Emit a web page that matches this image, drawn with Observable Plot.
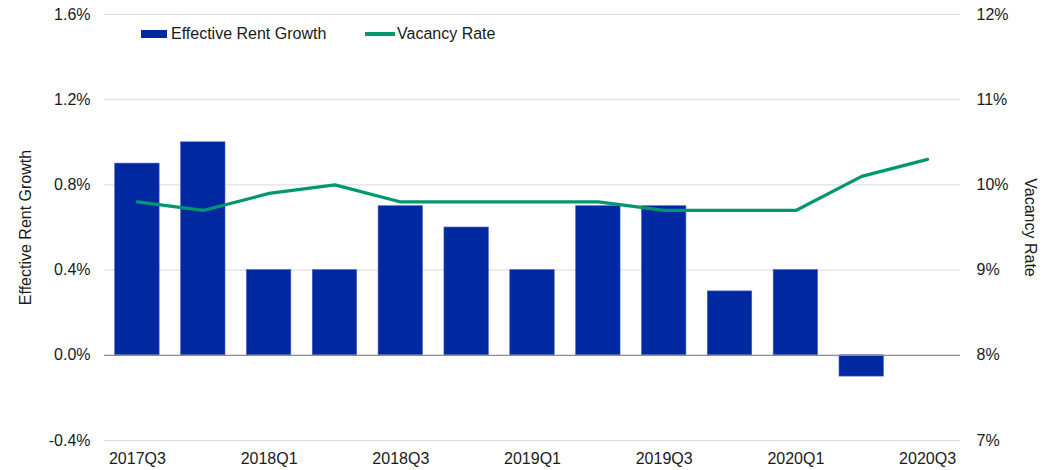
<!DOCTYPE html>
<html><head><meta charset="utf-8">
<script src="https://cdn.jsdelivr.net/npm/d3@7"></script>
<script src="https://cdn.jsdelivr.net/npm/@observablehq/plot@0.6"></script>
<style>
body{margin:0;background:#fff;font-family:"Liberation Sans",Arial,sans-serif;}
#wrap{position:relative;width:1042px;height:470px;}
#legend{position:absolute;left:141px;top:24px;height:20px;font-size:16px;color:#1a1a1a;}
#legend .it{position:absolute;top:0;display:flex;align-items:center;height:20px;white-space:nowrap;}
#legend .sw{width:26px;height:8px;background:#0028A0;margin-right:4px;}
#legend .ln{width:30px;height:3.5px;background:#00966f;margin-right:2px;}
</style></head>
<body><div id="wrap"><div id="legend"><div class="it" style="left:0"><div class="sw"></div>Effective Rent Growth</div><div class="it" style="left:224px"><div class="ln"></div>Vacancy Rate</div></div></div>
<script>
const quarters = ["2017Q3","2017Q4","2018Q1","2018Q2","2018Q3","2018Q4","2019Q1","2019Q2","2019Q3","2019Q4","2020Q1","2020Q2","2020Q3"];
const rentGrowth = [0.9,1.0,0.4,0.4,0.7,0.6,0.4,0.7,0.7,0.3,0.4,-0.1,null];
const vacancyRate = [9.8,9.7,9.9,10.0,9.8,9.8,9.8,9.8,9.7,9.7,9.7,10.1,10.3];
const xTickLabels = ["2017Q3","2018Q1","2018Q3","2019Q1","2019Q3","2020Q1","2020Q3"];
const leftTicks = [-0.4,0,0.4,0.8,1.2,1.6];
const rightTicks = [7,8,9,10,11,12];

const toLeft = v => (v - 8) * 0.4;
const bars = quarters.map((q,i)=>({q, v: rentGrowth[i]})).filter(d=>d.v!=null);
const line = quarters.map((q,i)=>({q, v: toLeft(vacancyRate[i])}));

const chart = Plot.plot({
  width: 1042, height: 470,
  marginTop: 14, marginBottom: 30, marginLeft: 104, marginRight: 82,
  style: {fontFamily: '"Liberation Sans", Arial, sans-serif', fontSize: "16px", color: "#1a1a1a", background: "#fff"},
  x: {domain: quarters, padding: 0, round: false},
  y: {domain: [-0.4, 1.6]},
  marks: [
    Plot.ruleY(leftTicks.filter(t=>t!==0), {stroke: "#d9d9d9", strokeWidth: 1}),
    Plot.barY(bars, {x: "q", y: "v", fill: "#0028A0", stroke: "#4865c0", strokeWidth: 0.6, insetLeft: 10.7, insetRight: 10.7}),
    Plot.ruleY([0], {stroke: "#8c8c8c", strokeWidth: 1.2}),
    Plot.lineY(line, {x: "q", y: "v", stroke: "#00966f", strokeWidth: 3.2}),
    Plot.axisX({ticks: xTickLabels, tickSize: 0, tickPadding: 12, label: null}),
    Plot.axisY({anchor: "left", ticks: leftTicks, tickSize: 0, tickPadding: 14, tickFormat: d => d.toFixed(1) + "%", label: null}),
    Plot.axisY({anchor: "right", ticks: rightTicks.map(toLeft), tickSize: 0, tickPadding: 16, tickFormat: d => Math.round(d/0.4 + 8) + "%", label: null}),
    Plot.text(["Effective Rent Growth"], {frameAnchor: "left", textAnchor: "middle", dx: -79, rotate: -90, fontSize: 16, fill: "#1a1a1a"}),
    Plot.text(["Vacancy Rate"], {frameAnchor: "right", textAnchor: "middle", dx: 70, rotate: 90, fontSize: 16, fill: "#1a1a1a"})
  ]
});
document.getElementById("wrap").appendChild(chart);
</script></body></html>
